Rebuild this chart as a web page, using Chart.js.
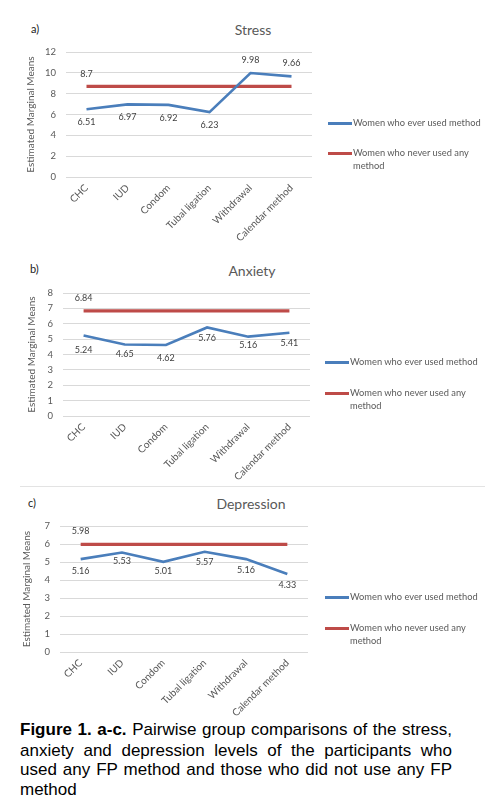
<!DOCTYPE html>
<html lang="en">
<head>
    <meta charset="UTF-8">
    <title>Figure 1 a-c</title>
    <script src="https://cdn.jsdelivr.net/npm/chart.js"></script>
    <style>
        html, body { margin: 0; padding: 0; background: #fff; }
        body { width: 488px; height: 804px; position: relative; overflow: hidden; font-family: Lato, "Open Sans", sans-serif; }
        canvas { position: absolute; left: 0; }
        .tag { position: absolute; font-size: 11px; color: #222; line-height: 12px; }
        .ttl { position: absolute; font-size: 14px; color: #595959; line-height: 16px; width: 200px; text-align: center; }
        .lg-line { position: absolute; width: 24px; height: 3px; }
        .lg-text { position: absolute; font-size: 9.3px; color: #595959; line-height: 12.5px; white-space: nowrap; }
        .sep { position: absolute; left: 20px; top: 486px; width: 465px; height: 1px; background: #e3e3e3; }
        .cap { position: absolute; left: 20px; width: 432px; font-family: "Liberation Sans", Arial, sans-serif; font-size: 17px; line-height: 20px; color: #000; white-space: nowrap; }
        .cap.j { text-align: justify; text-align-last: justify; }
    </style>
</head>
<body>
    <!-- panel a -->
    <div class="tag" style="left:31px; top:23px;">a)</div>
    <div class="ttl" style="left:153px; top:22px;">Stress</div>
    <canvas id="chartA" width="488" height="250" style="top:0;"></canvas>
    <div class="lg-line" style="left:328px; top:122px; background:#4a7ebb;"></div>
    <div class="lg-text" style="left:353px; top:117px;">Women who ever used method</div>
    <div class="lg-line" style="left:328px; top:152px; background:#be4b48;"></div>
    <div class="lg-text" style="left:353px; top:147px;">Women who never used any<br>method</div>

    <!-- panel b -->
    <div class="tag" style="left:30px; top:263px;">b)</div>
    <div class="ttl" style="left:152px; top:263px;">Anxiety</div>
    <canvas id="chartB" width="488" height="230" style="top:250px;"></canvas>
    <div class="lg-line" style="left:325px; top:361px; background:#4a7ebb;"></div>
    <div class="lg-text" style="left:350px; top:356px;">Women who ever used method</div>
    <div class="lg-line" style="left:325px; top:392px; background:#be4b48;"></div>
    <div class="lg-text" style="left:350px; top:387px;">Women who never used any<br>method</div>

    <!-- panel c -->
    <div class="sep"></div>
    <div class="tag" style="left:28px; top:497px;">c)</div>
    <div class="ttl" style="left:151px; top:496px;">Depression</div>
    <canvas id="chartC" width="488" height="238" style="top:480px;"></canvas>
    <div class="lg-line" style="left:325px; top:596px; background:#4a7ebb;"></div>
    <div class="lg-text" style="left:350px; top:591px;">Women who ever used method</div>
    <div class="lg-line" style="left:325px; top:627px; background:#be4b48;"></div>
    <div class="lg-text" style="left:350px; top:622px;">Women who never used any<br>method</div>

    <!-- caption -->
    <div class="cap j" style="top:720px;"><b>Figure 1. a-c.</b> Pairwise group comparisons of the stress,</div>
    <div class="cap j" style="top:741px;">anxiety and depression levels of the participants who</div>
    <div class="cap j" style="top:760px;">used any FP method and those who did not use any FP</div>
    <div class="cap" style="top:780px;">method</div>

    <script>
        // categories and values
        const categories = ['CHC', 'IUD', 'Condom', 'Tubal ligation', 'Withdrawal', 'Calendar method'];

        const stressEver = [6.51, 6.97, 6.92, 6.23, 9.98, 9.66];
        const stressNever = [8.7, 8.7, 8.7, 8.7, 8.7, 8.7];
        const stressTicks = { max: 12, step: 2 };

        const anxietyEver = [5.24, 4.65, 4.62, 5.76, 5.16, 5.41];
        const anxietyNever = [6.84, 6.84, 6.84, 6.84, 6.84, 6.84];
        const anxietyTicks = { max: 8, step: 1 };

        const depressionEver = [5.16, 5.53, 5.01, 5.57, 5.16, 4.33];
        const depressionNever = [5.98, 5.98, 5.98, 5.98, 5.98, 5.98];
        const depressionTicks = { max: 7, step: 1 };

        const seriesNames = ['Women who ever used method', 'Women who never used any method'];

        // draws the value next to each point; offset > 0 puts it below, < 0 above, null skips
        const valueLabels = {
            id: 'valueLabels',
            afterDatasetsDraw(chart, args, opts) {
                const ctx = chart.ctx;
                ctx.save();
                ctx.font = '9px Lato, sans-serif';
                ctx.fillStyle = '#404040';
                ctx.textAlign = 'center';
                ctx.textBaseline = 'middle';
                chart.data.datasets.forEach((ds, i) => {
                    const offs = opts.offsets[i];
                    chart.getDatasetMeta(i).data.forEach((pt, j) => {
                        if (offs[j] == null) return;
                        ctx.fillText(String(ds.data[j]), pt.x, pt.y + offs[j]);
                    });
                });
                ctx.restore();
            }
        };

        function makePanel(id, ever, never, ticks, box, offsets) {
            return new Chart(document.getElementById(id), {
                type: 'line',
                data: {
                    labels: categories,
                    datasets: [{
                        label: seriesNames[0],
                        data: ever,
                        borderColor: '#4a7ebb',
                        borderWidth: 2.6,
                        pointRadius: 0,
                        tension: 0,
                        fill: false
                    }, {
                        label: seriesNames[1],
                        data: never,
                        borderColor: '#be4b48',
                        borderWidth: 3.4,
                        pointRadius: 0,
                        tension: 0,
                        fill: false
                    }]
                },
                options: {
                    responsive: false,
                    animation: false,
                    devicePixelRatio: 1,
                    layout: {
                        padding: { top: box.top, left: box.left, right: box.right, bottom: 0 }
                    },
                    plugins: {
                        legend: { display: false },
                        tooltip: { enabled: false },
                        valueLabels: { offsets: offsets }
                    },
                    scales: {
                        x: {
                            offset: true,
                            grid: { display: false, drawTicks: false },
                            border: { display: false },
                            ticks: {
                                autoSkip: false,
                                minRotation: 45,
                                maxRotation: 45,
                                padding: 5,
                                color: '#595959',
                                font: { family: 'Lato', size: 10 }
                            },
                            afterFit: s => { s.height = box.xh; }
                        },
                        y: {
                            min: 0,
                            max: ticks.max,
                            grid: { color: '#d9d9d9', lineWidth: 1, drawTicks: false },
                            border: { display: false },
                            ticks: {
                                stepSize: ticks.step,
                                padding: 10,
                                color: '#595959',
                                font: { family: 'Lato', size: 9.5 }
                            },
                            title: {
                                display: true,
                                text: 'Estimated Marginal Means',
                                color: '#595959',
                                font: { family: 'Lato', size: 10 },
                                padding: { top: box.tp, bottom: 0 }
                            },
                            afterFit: s => { s.width = box.yw; }
                        }
                    }
                },
                plugins: [valueLabels]
            });
        }

        makePanel('chartA', stressEver, stressNever, stressTicks,
            { top: 52, left: 20, right: 176, xh: 73, yw: 46, tp: 5 },
            [[13, 13, 13, 13, -13, -13], [-12, null, null, null, null, null]]);

        makePanel('chartB', anxietyEver, anxietyNever, anxietyTicks,
            { top: 43, left: 20, right: 178, xh: 64, yw: 43, tp: 6 },
            [[15, 10, 13, 11, 8, 10], [-13, null, null, null, null, null]]);

        makePanel('chartC', depressionEver, depressionNever, depressionTicks,
            { top: 46, left: 16, right: 180, xh: 66, yw: 44, tp: 5 },
            [[12, 9, 9, 10, 11, 11], [-13, null, null, null, null, null]]);
    </script>
</body>
</html>
